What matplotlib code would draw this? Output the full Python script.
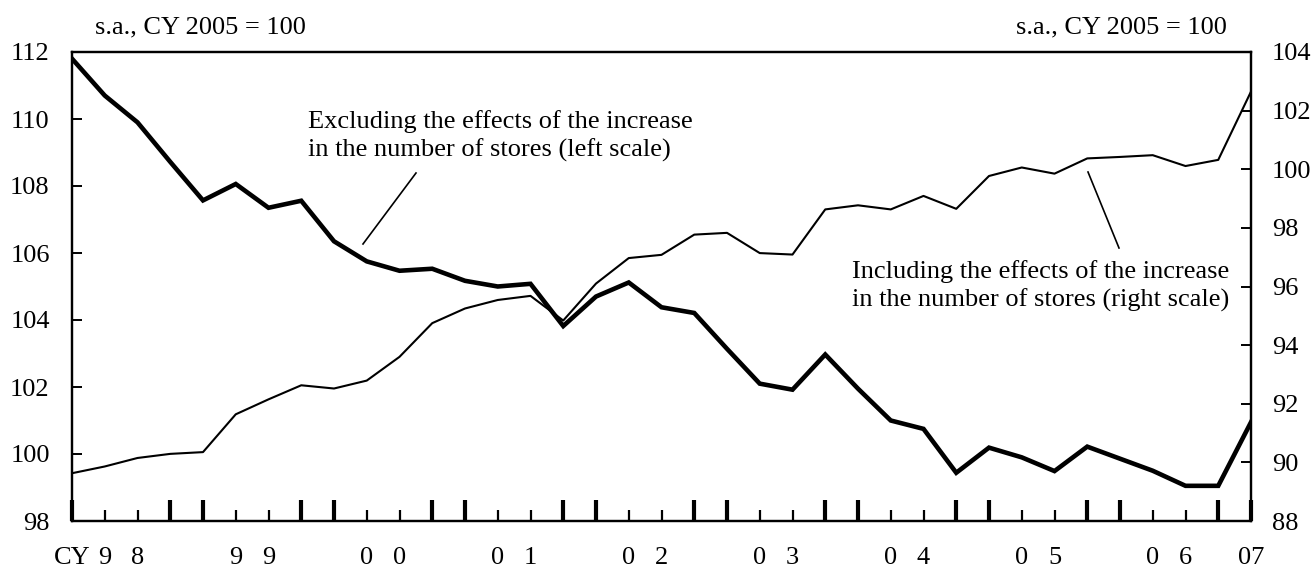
import matplotlib
matplotlib.use("Agg")
import matplotlib.pyplot as plt
import numpy as np

# quarterly, CY1998 Q1 .. CY2007 Q1
quarters = np.arange(37)
excl_stores = [111.8, 110.7, 109.9, 108.72, 107.57, 108.06, 107.35, 107.56,
               106.35, 105.75, 105.47, 105.53, 105.17, 105.0, 105.08, 103.82,
               104.7, 105.12, 104.38, 104.21, 103.14, 102.1, 101.92, 102.97,
               101.95, 101.0, 100.75, 99.44, 100.19, 99.9, 99.49, 100.22,
               99.86, 99.5, 99.05, 99.05, 100.95]
incl_stores = [89.63, 89.86, 90.15, 90.29, 90.35, 91.64, 92.15, 92.63,
               92.52, 92.79, 93.6, 94.75, 95.25, 95.54, 95.68, 94.84,
               96.1, 96.97, 97.08, 97.77, 97.83, 97.14, 97.09, 98.63,
               98.77, 98.63, 99.09, 98.65, 99.77, 100.06, 99.85, 100.37,
               100.42, 100.48, 100.11, 100.32, 102.65]
year_labels = ["98", "99", "00", "01", "02", "03", "04", "05", "06"]
left_ticks = [98, 100, 102, 104, 106, 108, 110, 112]
right_ticks = [88, 90, 92, 94, 96, 98, 100, 102, 104]

plt.rcParams["font.family"] = ["Liberation Serif", "DejaVu Serif"]
FS = 19
W, H = 1314, 570


def fx(px):
    return px / W


def fy(py):
    return 1 - py / H


fig = plt.figure(figsize=(13.14, 5.70), dpi=100)
ax = fig.add_axes([fx(72), fy(521), (1251 - 72) / W, (521 - 52) / H])
ax2 = ax.twinx()

ax.plot(quarters, excl_stores, color="black", lw=3.3, solid_joinstyle="miter", zorder=3)
ax2.plot(quarters, incl_stores, color="black", lw=1.5, zorder=2)

ax.set_xlim(0, 36)
ax.set_ylim(98, 112)
ax2.set_ylim(88, 104)
ax.set_yticks(left_ticks)
ax2.set_yticks(right_ticks)

for a in (ax, ax2):
    for s in a.spines.values():
        s.set_linewidth(1.6)

ax.tick_params(axis="y", direction="in", length=7, width=1.4, pad=16, labelsize=FS)
ax2.tick_params(axis="y", direction="in", length=7, width=1.4, pad=15, labelsize=FS)

# x ticks: thick at Q4 and Q1, thin at Q2/Q3
major = [q for q in quarters if q % 4 in (0, 3)]
minor = [q for q in quarters if q % 4 in (1, 2)]
ax.set_xticks(major)
ax.set_xticks(minor, minor=True)
ax.tick_params(axis="x", which="major", direction="in", length=15, width=3.0, labelbottom=False)
ax.tick_params(axis="x", which="minor", direction="in", length=8, width=1.6, labelbottom=False)

# year labels, one digit under each of the two middle quarters
trans = ax.get_xaxis_transform()
ylab = -37 / 469
for i, lab in enumerate(year_labels):
    ax.text(4 * i + 1, ylab, lab[0], transform=trans, ha="center", va="center", fontsize=FS)
    ax.text(4 * i + 2, ylab, lab[1], transform=trans, ha="center", va="center", fontsize=FS)
ax.text(0, ylab, "CY", transform=trans, ha="center", va="center", fontsize=FS)
ax.text(36, ylab, "07", transform=trans, ha="center", va="center", fontsize=FS)

fig.text(fx(95), fy(27), "s.a., CY 2005 = 100", ha="left", va="center", fontsize=FS)
fig.text(fx(1227), fy(27), "s.a., CY 2005 = 100", ha="right", va="center", fontsize=FS)

fig.text(fx(308), fy(136), "Excluding the effects of the increase\nin the number of stores (left scale)",
         ha="left", va="center", fontsize=FS, linespacing=1.35)
fig.text(fx(852), fy(286), "Including the effects of the increase\nin the number of stores (right scale)",
         ha="left", va="center", fontsize=FS, linespacing=1.35)

# leader lines from the labels to the series
fig.add_artist(plt.Line2D([fx(416), fx(363)], [fy(173), fy(244)], color="black", lw=1.2))
fig.add_artist(plt.Line2D([fx(1088), fx(1119)], [fy(172), fy(248)], color="black", lw=1.2))

fig.savefig("out.png", dpi=100)
